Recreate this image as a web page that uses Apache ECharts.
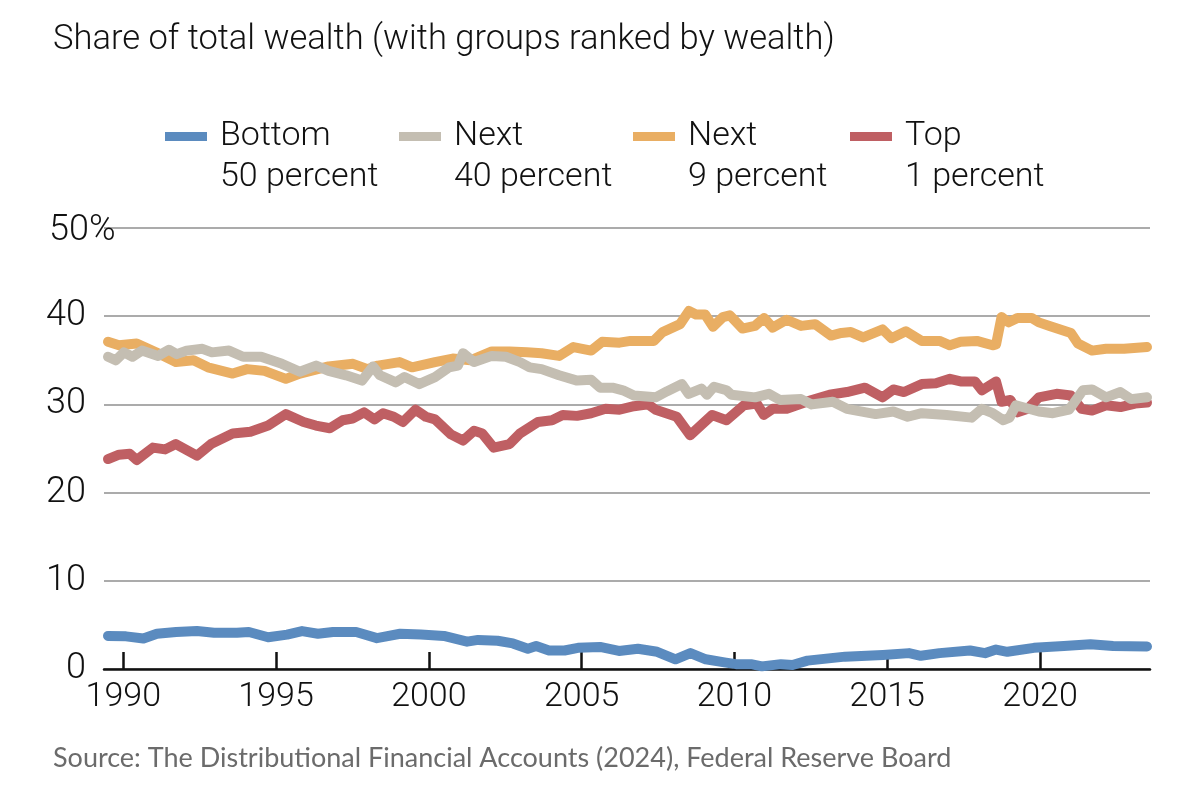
<!DOCTYPE html>
<html>
<head>
<meta charset="utf-8">
<script src="https://cdn.jsdelivr.net/npm/echarts@6/dist/echarts.min.js"></script>
<style>
  html, body { margin: 0; padding: 0; background: #fff; }
  #main { width: 1192px; height: 786px; }
</style>
</head>
<body>
<div id="main"></div>
<script>
// wealth shares (percent); x = year (decimal)
var bottom50Years = [1989.5, 1990.09, 1990.66, 1991.1, 1991.73, 1992.41, 1992.97, 1993.72, 1994.11, 1994.74,
  1995.36, 1995.85, 1996.37, 1996.86, 1997.62, 1998.3, 1999.06, 1999.74, 2000.49, 2001.25, 2001.61, 2002.25,
  2002.75, 2003.24, 2003.51, 2003.93, 2004.44, 2004.88, 2005.6, 2006.22, 2006.84, 2007.47, 2008.07, 2008.56,
  2009.06, 2009.67, 2010.05, 2010.54, 2010.9, 2011.52, 2011.9, 2012.39, 2013.62, 2014.86, 2015.71, 2016.1,
  2016.71, 2017.71, 2018.2, 2018.56, 2018.93, 2019.8, 2020.78, 2021.65, 2022.39, 2023.5];
var bottom50Vals = [3.75, 3.7, 3.45, 4.0, 4.2, 4.3, 4.1, 4.1, 4.2, 3.6,
  3.9, 4.3, 4.0, 4.2, 4.2, 3.5, 4.0, 3.9, 3.75, 3.1, 3.3, 3.2,
  2.9, 2.3, 2.6, 2.1, 2.1, 2.4, 2.5, 2.05, 2.3, 1.95, 1.1, 1.8,
  1.1, 0.75, 0.55, 0.55, 0.3, 0.55, 0.45, 0.95, 1.4, 1.6, 1.8, 1.5,
  1.8, 2.1, 1.8, 2.2, 1.95, 2.4, 2.6, 2.8, 2.6, 2.55];

var next40Years = [1989.5, 1989.75, 1990.02, 1990.3, 1990.61, 1991.14, 1991.49, 1991.75, 1992.07, 1992.59,
  1992.9, 1993.46, 1993.92, 1994.51, 1995.19, 1995.78, 1996.31, 1996.72, 1997.29, 1997.81, 1998.17, 1998.4,
  1998.92, 1999.2, 1999.68, 2000.2, 2000.66, 2000.95, 2001.12, 2001.48, 2002.06, 2002.52, 2002.98, 2003.3,
  2003.69, 2004.26, 2004.85, 2005.31, 2005.6, 2006.01, 2006.35, 2006.71, 2007.42, 2007.8, 2008.28, 2008.5,
  2008.92, 2009.1, 2009.33, 2009.74, 2009.9, 2010.67, 2011.13, 2011.49, 2012.18, 2012.53, 2013.22, 2013.68,
  2014.62, 2015.2, 2015.67, 2016.13, 2016.94, 2017.76, 2018.1, 2018.45, 2018.8, 2019.0, 2019.21, 2019.96,
  2020.42, 2020.95, 2021.4, 2021.7, 2022.16, 2022.63, 2022.98, 2023.5];
var next40Vals = [35.4, 35.0, 35.9, 35.4, 36.1, 35.5, 36.2, 35.7, 36.1, 36.3,
  35.9, 36.1, 35.4, 35.4, 34.6, 33.7, 34.4, 33.8, 33.3, 32.7, 34.3, 33.3,
  32.5, 33.1, 32.3, 33.1, 34.2, 34.4, 35.8, 34.8, 35.5, 35.4, 34.8, 34.2,
  34.0, 33.3, 32.7, 32.8, 31.9, 31.9, 31.6, 31.0, 30.8, 31.5, 32.3, 31.2,
  31.8, 31.1, 32.0, 31.6, 31.1, 30.8, 31.2, 30.5, 30.6, 30.0, 30.3, 29.5,
  28.9, 29.2, 28.6, 29.0, 28.8, 28.5, 29.5, 29.0, 28.2, 28.5, 29.9, 29.2,
  29.0, 29.4, 31.6, 31.7, 30.8, 31.4, 30.6, 30.8];

var next9Years = [1989.5, 1989.86, 1990.44, 1991.07, 1991.72, 1992.3, 1992.77, 1993.58, 1994.05, 1994.62,
  1995.32, 1995.78, 1996.72, 1997.52, 1997.99, 1998.33, 1999.04, 1999.45, 2000.2, 2000.78, 2001.36, 2002.06,
  2002.64, 2003.21, 2003.69, 2004.26, 2004.73, 2005.31, 2005.67, 2006.24, 2006.6, 2007.36, 2007.65, 2008.22,
  2008.51, 2008.74, 2009.04, 2009.3, 2009.62, 2009.85, 2010.26, 2010.67, 2010.97, 2011.25, 2011.71, 2012.18,
  2012.64, 2013.16, 2013.5, 2013.81, 2014.21, 2014.85, 2015.14, 2015.61, 2016.13, 2016.71, 2017.05, 2017.4,
  2017.93, 2018.45, 2018.56, 2018.74, 2018.97, 2019.26, 2019.73, 2019.96, 2020.31, 2021.01, 2021.24, 2021.7,
  2022.16, 2022.75, 2023.5];
var next9Vals = [37.1, 36.7, 36.9, 35.9, 34.8, 35.0, 34.2, 33.5, 34.0, 33.8,
  32.9, 33.5, 34.3, 34.6, 34.0, 34.4, 34.8, 34.2, 34.8, 35.2, 35.0, 36.0,
  36.0, 35.9, 35.8, 35.5, 36.5, 36.1, 37.1, 37.0, 37.2, 37.2, 38.2, 39.1,
  40.6, 40.2, 40.2, 38.8, 39.9, 40.1, 38.6, 38.9, 39.8, 38.7, 39.6, 38.9,
  39.1, 37.8, 38.1, 38.2, 37.6, 38.5, 37.5, 38.3, 37.2, 37.2, 36.7, 37.1,
  37.2, 36.7, 36.8, 39.9, 39.3, 39.8, 39.8, 39.3, 38.9, 38.1, 36.9, 36.1,
  36.3, 36.3, 36.5];

var top1Years = [1989.5, 1989.86, 1990.21, 1990.44, 1990.97, 1991.37, 1991.72, 1992.41, 1992.87, 1993.58,
  1994.16, 1994.74, 1995.32, 1995.9, 1996.3, 1996.76, 1997.18, 1997.5, 1997.88, 1998.22, 1998.5, 1998.85,
  1999.15, 1999.56, 1999.9, 2000.2, 2000.72, 2001.12, 2001.48, 2001.75, 2002.12, 2002.64, 2002.98, 2003.57,
  2004.03, 2004.38, 2004.85, 2005.31, 2005.78, 2006.24, 2006.71, 2007.18, 2007.42, 2008.11, 2008.55, 2009.27,
  2009.74, 2010.31, 2010.73, 2010.96, 2011.25, 2011.71, 2012.53, 2013.11, 2013.68, 2014.27, 2014.85, 2015.2,
  2015.55, 2016.13, 2016.59, 2017.05, 2017.4, 2017.87, 2018.1, 2018.56, 2018.74, 2019.03, 2019.26, 2019.6,
  2019.96, 2020.54, 2021.01, 2021.36, 2021.7, 2022.16, 2022.63, 2023.11, 2023.5];
var top1Vals = [23.8, 24.3, 24.4, 23.7, 25.1, 24.9, 25.5, 24.2, 25.5, 26.7,
  26.9, 27.6, 28.9, 28.0, 27.6, 27.3, 28.2, 28.4, 29.1, 28.3, 29.0, 28.6,
  28.0, 29.4, 28.6, 28.3, 26.6, 25.9, 27.0, 26.7, 25.1, 25.5, 26.7, 28.0,
  28.2, 28.8, 28.7, 29.0, 29.5, 29.4, 29.8, 30.0, 29.4, 28.6, 26.5, 28.8,
  28.2, 29.9, 30.1, 28.8, 29.5, 29.5, 30.5, 31.1, 31.4, 31.9, 30.8, 31.7,
  31.4, 32.3, 32.4, 32.9, 32.6, 32.6, 31.6, 32.6, 30.3, 30.5, 29.1, 29.5,
  30.8, 31.2, 31.0, 29.5, 29.3, 29.9, 29.7, 30.1, 30.2];

var yearTicks = [1990, 1995, 2000, 2005, 2010, 2015, 2020];
var groupNames = ['Bottom\n50 percent', 'Next\n40 percent', 'Next\n9 percent', 'Top\n1 percent'];
var groupColors = ['#5b8bbf', '#c4beb2', '#e9ae63', '#bf5f63'];

var narrow = 'Roboto, sans-serif';

function pairs(xs, ys) {
    var out = [];
    for (var i = 0; i < xs.length; i++) {
        out.push([xs[i], ys[i]]);
    }
    return out;
}

function makeSeries(idx, xs, ys, z) {
    return {
        name: groupNames[idx],
        type: 'line',
        data: pairs(xs, ys),
        showSymbol: false,
        symbol: 'none',
        clip: false,
        z: z,
        itemStyle: { color: groupColors[idx] },
        lineStyle: { color: groupColors[idx], width: 10, cap: 'round', join: 'round' }
    };
}

// one legend per group so each sits where the original put it
var legendLefts = [165, 399, 633, 850];
var legendIcon = 'path://M0,0L42,0L42,9L0,9Z M0,49.9L0.1,49.9L0.1,50L0,50Z';
var legends = [];
for (var i = 0; i < groupNames.length; i++) {
    legends.push({
        left: legendLefts[i],
        top: 116,
        padding: 0,
        orient: 'horizontal',
        selectedMode: false,
        itemWidth: 42,
        itemHeight: 50,
        data: [{ name: groupNames[i], icon: legendIcon, itemStyle: { color: groupColors[i], borderWidth: 0 } }],
        textStyle: { fontFamily: narrow, fontWeight: 300, fontSize: 34, lineHeight: 41, color: '#111', padding: [0, 0, 0, 8] }
    });
}

var myChart = echarts.init(document.getElementById('main'), null, { renderer: 'canvas' });
myChart.setOption({
    animation: false,
    backgroundColor: '#fff',
    title: [{
        text: 'Share of total wealth (with groups ranked by wealth)',
        left: 48,
        top: 18,
        textStyle: { fontFamily: narrow, fontSize: 34.5, fontWeight: 300, color: '#111' }
    }, {
        text: 'Source: The Distributional Financial Accounts (2024), Federal Reserve Board',
        left: 48,
        top: 740,
        textStyle: { fontFamily: 'Lato, "Open Sans", sans-serif', fontSize: 27, fontWeight: 'normal', color: '#6b6b6b' }
    }],
    legend: legends,
    grid: {
        left: 104,
        right: 42,
        top: 228,
        bottom: 117,
        outerBoundsMode: 'none',
        containLabel: false
    },
    xAxis: {
        type: 'value',
        min: 1989.369,
        max: 2023.598,
        splitLine: { show: false },
        axisLine: { show: true, onZero: false, lineStyle: { color: '#111', width: 2.5 } },
        axisTick: { show: true, inside: true, length: 17, customValues: yearTicks, lineStyle: { color: '#111', width: 2.5 } },
        axisLabel: {
            customValues: yearTicks,
            margin: 11,
            fontFamily: narrow,
            fontWeight: 300,
            fontSize: 34,
            color: '#111',
            formatter: function (v) { return '' + v; }
        }
    },
    yAxis: {
        type: 'value',
        min: 0,
        max: 50,
        interval: 10,
        axisLine: { show: false },
        axisTick: { show: false },
        splitLine: { lineStyle: { color: '#ababab', width: 2 } },
        axisLabel: {
            align: 'left',
            margin: 55,
            fontFamily: narrow,
            fontWeight: 300,
            fontSize: 36,
            color: '#111',
            formatter: function (v) {
                if (v === 50) {
                    return '{l|50%}';
                }
                return '{r|' + v + '}';
            },
            rich: {
                l: { fontFamily: narrow, fontWeight: 300, fontSize: 36, color: '#111', padding: [6, 0, 0, 0] },
                r: { fontFamily: narrow, fontWeight: 300, fontSize: 36, color: '#111', width: 37, align: 'right' }
            }
        }
    },
    series: [
        makeSeries(0, bottom50Years, bottom50Vals, 2),
        makeSeries(2, next9Years, next9Vals, 3),
        makeSeries(3, top1Years, top1Vals, 4),
        makeSeries(1, next40Years, next40Vals, 5)
    ]
});
</script>
</body>
</html>
